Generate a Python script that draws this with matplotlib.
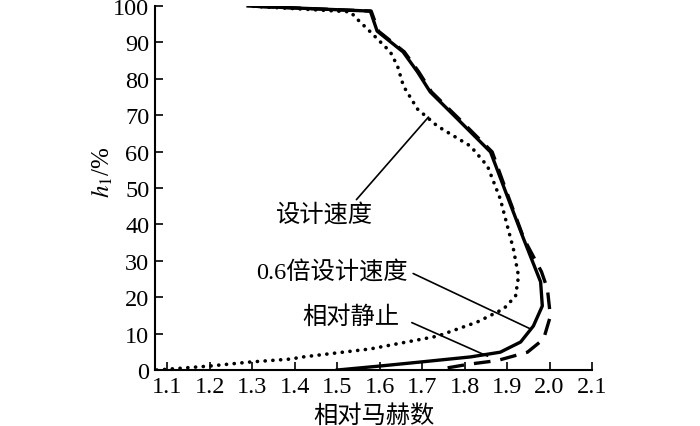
import matplotlib
matplotlib.use("Agg")
import matplotlib.pyplot as plt

plt.rcParams['font.family'] = ['Liberation Serif', 'Noto Sans CJK SC']
plt.rcParams['mathtext.fontset'] = 'stix'

# 相对静止 (dashed)
mach_rest = [1.76, 1.81, 1.877, 1.948, 1.986, 2.002, 1.995, 1.981, 1.94, 1.905,
             1.865, 1.787, 1.722, 1.692, 1.658, 1.597, 1.58, 1.29]
h_rest = [0.6, 1.6, 2.6, 4.9, 8.5, 14.8, 22.3, 27.0, 36.0, 47.0,
          59.9, 69.0, 76.4, 81.9, 87.4, 93.1, 98.6, 100]

# 0.6倍设计速度 (solid)
mach_06 = [1.50, 1.601, 1.696, 1.814, 1.884, 1.932, 1.962, 1.983, 1.979, 1.939,
           1.903, 1.861, 1.783, 1.719, 1.689, 1.655, 1.594, 1.578, 1.29]
h_06 = [0, 1.1, 2.2, 3.6, 4.9, 7.7, 12.1, 17.6, 24.2, 36.0,
        47.0, 59.9, 69.0, 76.4, 81.9, 87.4, 93.1, 98.6, 100]

# 设计速度 (dotted)
mach_design = [1.075, 1.20, 1.295, 1.389, 1.42, 1.578, 1.736, 1.83, 1.892, 1.920,
               1.927, 1.915, 1.884, 1.854, 1.814, 1.736, 1.689, 1.656, 1.642,
               1.625, 1.578, 1.547, 1.531, 1.29]
h_design = [0, 1.1, 2.2, 3.0, 3.6, 5.8, 9.3, 13.2, 16.8, 20.3,
            25.8, 33.2, 47.0, 56.0, 61.5, 67.0, 71.7, 78.0, 83.5,
            87.4, 92.9, 96.4, 98.4, 100]

xticks = [1.1, 1.2, 1.3, 1.4, 1.5, 1.6, 1.7, 1.8, 1.9, 2.0, 2.1]
yticks = [0, 10, 20, 30, 40, 50, 60, 70, 80, 90, 100]

fig = plt.figure(figsize=(7, 4.27), dpi=100)
ax = fig.add_axes([0.2214, 0.1311, 0.6243, 0.8525])

ax.plot(mach_design, h_design, color='black', lw=2.6,
        linestyle=(0, (0.05, 2.1)), dash_capstyle='round', solid_capstyle='round')
ax.plot(mach_rest, h_rest, color='black', lw=2.4, linestyle=(0, (5, 3)))
ax.plot(mach_06, h_06, color='black', lw=2.4)

ax.set_xlim(1.0708, 2.1)
ax.set_ylim(0, 100)
ax.set_xticks(xticks)
ax.set_xticklabels(['%.1f' % v for v in xticks])
ax.set_yticks(yticks)
ax.tick_params(direction='in', length=6, width=1.2, labelsize=17.5, pad=4)
for s in ['top', 'right']:
    ax.spines[s].set_visible(False)
for s in ['left', 'bottom']:
    ax.spines[s].set_linewidth(1.5)

ax.set_xlabel('相对马赫数', fontsize=17.5, labelpad=5)
ax.set_ylabel('$h_1$/%', fontsize=18)
ax.yaxis.set_label_coords(-0.092, 0.545)

ax.annotate('设计速度', xy=(1.715, 69.5), xytext=(1.471, 42.9),
            fontsize=17.5, ha='center', va='center',
            arrowprops=dict(arrowstyle='-', color='black', lw=1.2,
                            shrinkA=0, shrinkB=0, relpos=(0.8, 1.0)))
ax.annotate('0.6倍设计速度', xy=(1.955, 11.3), xytext=(1.488, 27.2),
            fontsize=17.5, ha='center', va='center',
            arrowprops=dict(arrowstyle='-', color='black', lw=1.2,
                            shrinkA=2, shrinkB=0, relpos=(1.0, 0.5)))
ax.annotate('相对静止', xy=(1.854, 3.8), xytext=(1.531, 14.6),
            fontsize=17.5, ha='center', va='center',
            arrowprops=dict(arrowstyle='-', color='black', lw=1.2,
                            shrinkA=8, shrinkB=0, relpos=(1.0, 0.5)))

fig.savefig('out.png', dpi=100)
